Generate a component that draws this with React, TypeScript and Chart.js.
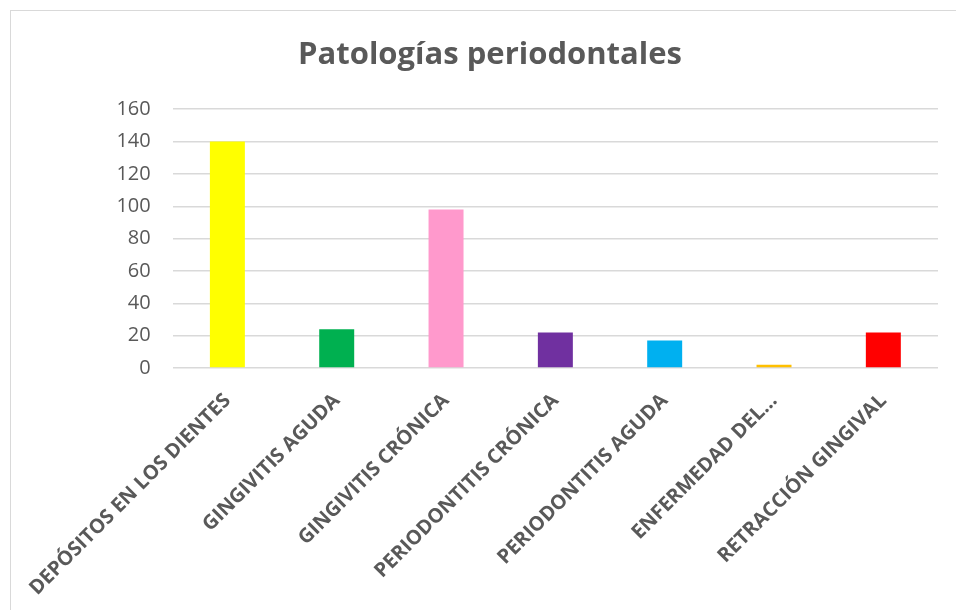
import React, { useEffect, useRef } from "react";
import { Chart, registerables } from "chart.js";

Chart.register(...registerables);

const title = "Patologías periodontales";
const categories = [
  "DEPÓSITOS EN LOS DIENTES",
  "GINGIVITIS AGUDA",
  "GINGIVITIS CRÓNICA",
  "PERIODONTITIS CRÓNICA",
  "PERIODONTITIS AGUDA",
  "ENFERMEDAD DEL...",
  "RETRACCIÓN GINGIVAL",
];
const values = [140, 24, 98, 22, 17, 2, 22];
const barColors = ["#FFFF00", "#00B050", "#FF99CC", "#7030A0", "#00B0F0", "#FFC000", "#FF0000"];
const yMin = 0;
const yMax = 160;
const yStep = 20;

export default function App() {
  const ref = useRef<HTMLCanvasElement | null>(null);
  useEffect(() => {
    if (!ref.current) return;
    const chart = new Chart(ref.current, {
      type: "bar",
      data: {
        labels: categories,
        datasets: [
          {
            data: values,
            backgroundColor: barColors,
            borderWidth: 0,
            barPercentage: 0.32,
            categoryPercentage: 1,
          },
        ],
      },
      options: {
        animation: false,
        responsive: false,
        maintainAspectRatio: false,
        layout: { padding: { left: 42, right: 18, top: 37, bottom: 4 } },
        plugins: {
          legend: { display: false },
          tooltip: { enabled: false },
          title: {
            display: true,
            text: title,
            color: "#595959",
            font: { family: "Open Sans", size: 31, weight: "bold" },
            padding: { top: 0, bottom: 35 },
          },
        },
        scales: {
          x: {
            afterFit: (scale: any) => {
              scale.height = 238;
            },
            grid: { display: false, drawTicks: false },
            border: { display: false },
            ticks: {
              color: "#595959",
              font: { family: "Open Sans", size: 20, weight: "bold" },
              minRotation: 45,
              maxRotation: 45,
              autoSkip: false,
              padding: 21,
            },
          },
          y: {
            min: yMin,
            max: yMax,
            afterFit: (scale: any) => {
              scale.width = 129;
            },
            grid: { color: "#D9D9D9", lineWidth: 1.5, drawTicks: false },
            border: { display: false },
            ticks: {
              stepSize: yStep,
              color: "#595959",
              font: { family: "Open Sans", size: 20 },
              padding: 22,
            },
          },
        },
      },
    });
    return () => chart.destroy();
  }, []);
  return (
    <div style={{ position: "fixed", left: 0, top: 0, width: 956, height: 610, background: "#fff", overflow: "hidden" }}>
      <div
        style={{
          position: "absolute",
          left: 10,
          top: 10,
          width: 980,
          height: 640,
          border: "1.5px solid #D9D9D9",
        }}
      />
      <canvas ref={ref} width={956} height={610} style={{ position: "absolute", left: 0, top: 0 }} />
    </div>
  );
}
